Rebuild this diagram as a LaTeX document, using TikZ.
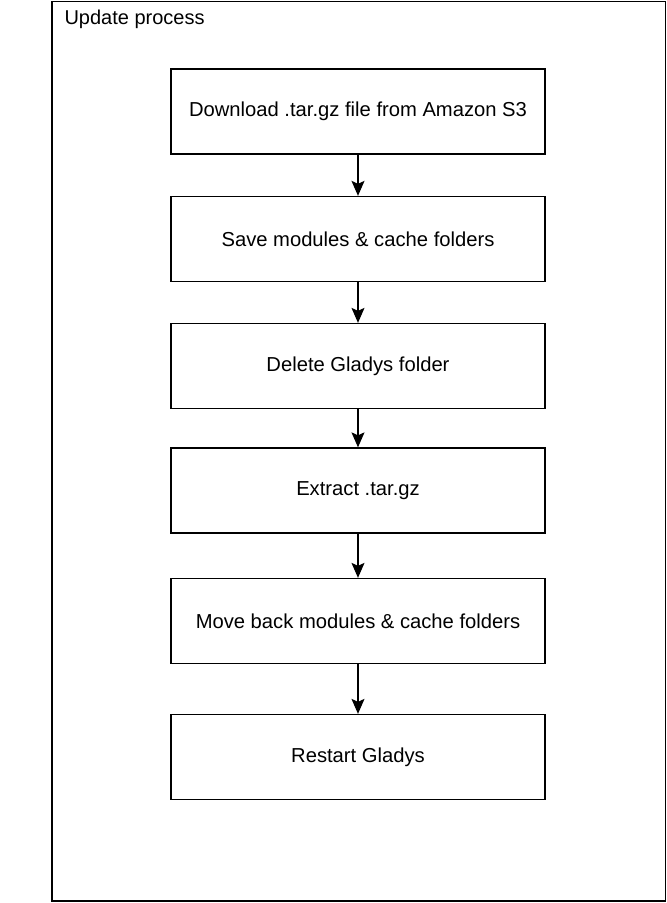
\documentclass[tikz,border=0pt]{standalone}
\usepackage{fontspec}
\setmainfont{Liberation Sans}
\usetikzlibrary{arrows.meta}

\begin{document}
\begin{tikzpicture}[x=1pt,y=-1pt,
    stepbox/.style={draw, line width=1.3pt, minimum width=374pt, minimum height=85pt, inner sep=0pt, font=\fontsize{20.2}{23}\selectfont},
    flow/.style={-{Stealth[length=15pt,width=13pt,inset=3pt]}, line width=1.3pt}]
          \useasboundingbox (0,0) rectangle (667,903);
          \draw[line width=1.4pt] (52,1.5) rectangle (665.5,901);
          \node[anchor=west, font=\fontsize{20}{23}\selectfont] (title) at (61,19) {Update process};
          \node[stepbox] (download) at (358,111.5) {Download .tar.gz file from Amazon S3};
          \node[stepbox] (save) at (358,239) {Save modules \& cache folders};
          \node[stepbox] (delete) at (358,366) {Delete Gladys folder};
          \node[stepbox] (extract) at (358,490.5) {Extract .tar.gz};
          \node[stepbox] (moveback) at (358,621) {Move back modules \& cache folders};
          \node[stepbox] (restart) at (358,757) {Restart Gladys};
          \draw[flow] (download) -- (save);
          \draw[flow] (save) -- (delete);
          \draw[flow] (delete) -- (extract);
          \draw[flow] (extract) -- (moveback);
          \draw[flow] (moveback) -- (restart);
        \end{tikzpicture}
\end{document}
